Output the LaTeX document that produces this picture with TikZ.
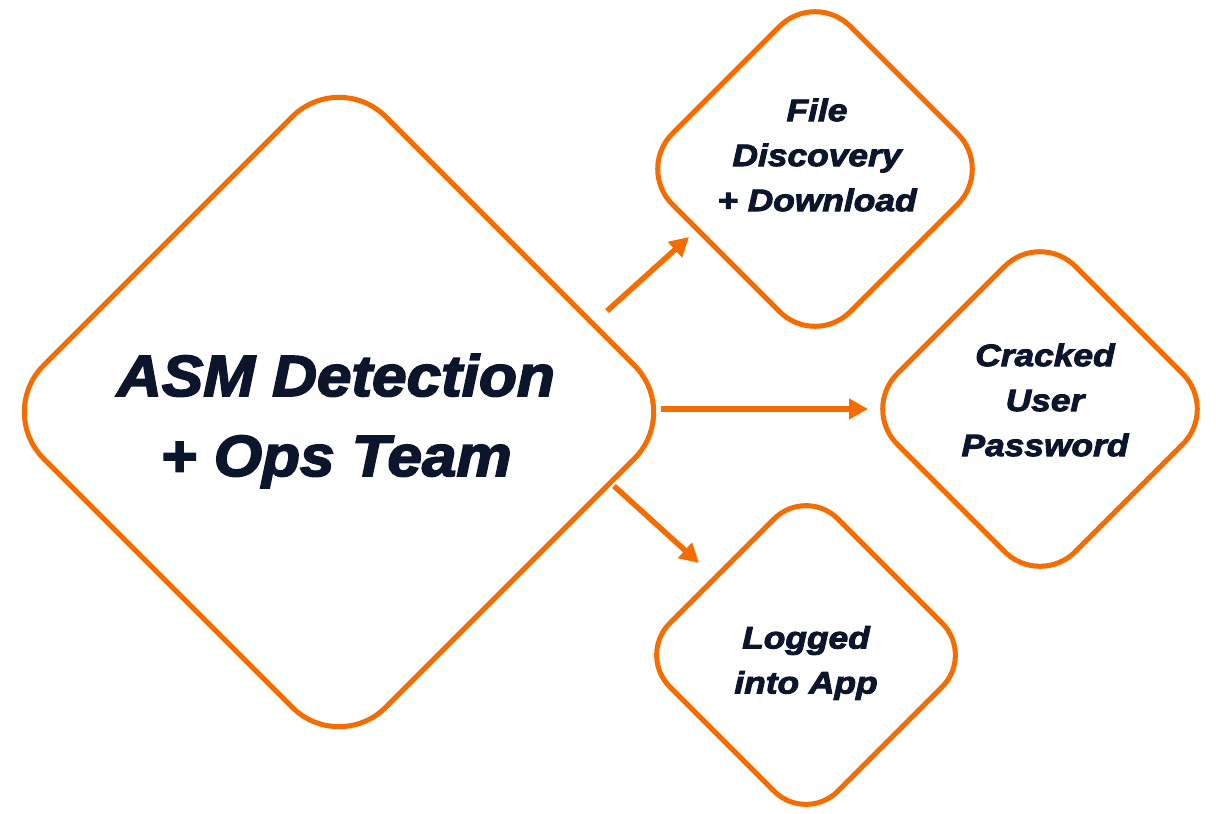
\documentclass[tikz,border=0pt]{standalone}
\usepackage{fontspec}
\setmainfont{Liberation Sans}
\newfontfamily\bigfont{Liberation Sans Bold Italic}[FakeStretch=1.07,FakeBold=3]
\newfontfamily\smallfont{Liberation Sans Bold Italic}[FakeStretch=1.14,FakeBold=3]
\usetikzlibrary{arrows.meta}
\definecolor{orng}{RGB}{245,108,0}
\definecolor{navy}{RGB}{11,22,44}
\tikzset{
  diamline/.style={draw=orng, line width=5pt, line join=round},
  bigtxt/.style={text=navy, align=center, font=\bigfont\fontsize{58}{80}\selectfont},
  smalltxt/.style={text=navy, align=center, font=\smallfont\fontsize{31}{45}\selectfont},
  flow/.style={draw=orng, line width=5.5pt, -{Triangle[length=19pt,width=20pt]}}
}
\newcommand\mydiamond[4]{%
  \draw[diamline, rounded corners=#4pt] (#1-#3/2,#2-#3/2) -- (#1,#2-#3) -- (#1+#3,#2) -- (#1,#2+#3) -- (#1-#3,#2) -- cycle;}
\begin{document}
\begin{tikzpicture}[x=1pt,y=-1pt]
\useasboundingbox (0,0) rectangle (1216,814);
% diamonds
\mydiamond{339}{412}{342}{66}
\mydiamond{815}{169}{178}{50}
\mydiamond{1040}{409}{178}{50}
\mydiamond{806}{655}{168}{45}
% texts
\node[bigtxt] (asm) at (336,421) {ASM Detection\\+ Ops Team};
\node[smalltxt] (file) at (817,155) {File\\Discovery\\+ Download};
\node[smalltxt] (crack) at (1045,400) {Cracked\\User\\Password};
\node[smalltxt] (logged) at (806,663) {Logged\\into App};
% connector ends
\coordinate (s1) at (607,311);
\coordinate (e1) at (689,237);
\coordinate (s2) at (661,409);
\coordinate (e2) at (868,409);
\coordinate (s3) at (614,486);
\coordinate (e3) at (699,563);
\draw[flow] (s1) -- (e1);
\draw[flow] (s2) -- (e2);
\draw[flow] (s3) -- (e3);
\end{tikzpicture}
\end{document}
